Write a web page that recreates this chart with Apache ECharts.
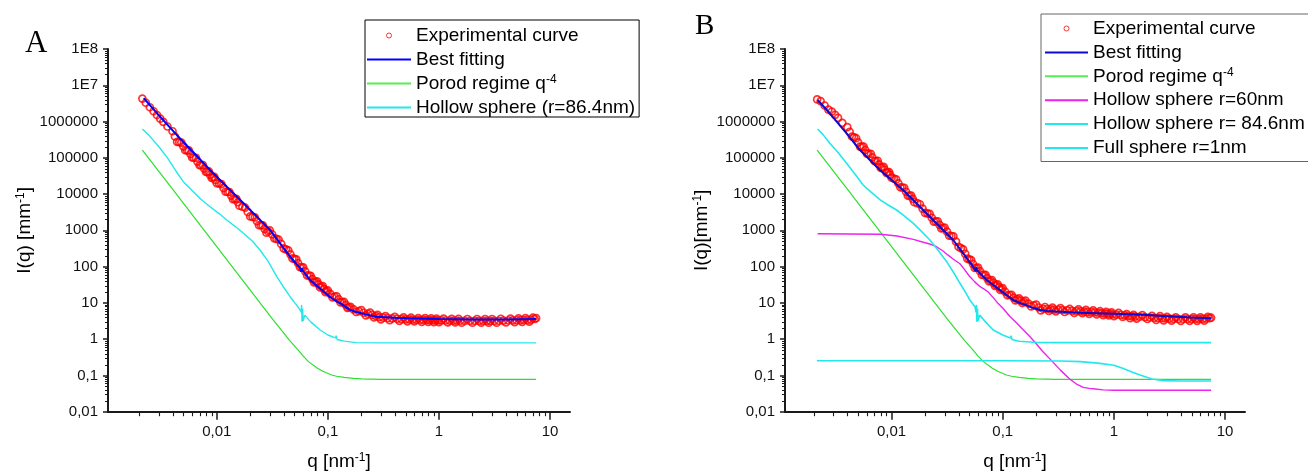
<!DOCTYPE html>
<html><head><meta charset="utf-8">
<script src="https://cdn.jsdelivr.net/npm/echarts@6/dist/echarts.min.js"></script>
<style>html,body{margin:0;padding:0;background:#fff}#c{width:1308px;height:471px}</style>
</head><body><div id="c"></div>
<script>
// ---------- tick labels ----------
const xTickValues = [0.01, 0.1, 1, 10];
const xTickLabels = ['0,01', '0,1', '1', '10'];
const yTickValues = [0.01, 0.1, 1, 10, 100, 1000, 10000, 100000, 1000000, 1e7, 1e8];
const yTickLabels = ['0,01', '0,1', '1', '10', '100', '1000', '10000', '100000', '1000000', '1E7', '1E8'];

// ---------- experimental curve (shared q grids) ----------
const qExp = [0.00214, 0.0023, 0.0025, 0.0027, 0.0029, 0.0031, 0.0033, 0.0036, 0.004, 0.0044, 0.0048, 0.0052, 0.0056, 0.006, 0.0065, 0.007, 0.0075, 0.008, 0.0085, 0.009, 0.0095, 0.010, 0.011, 0.012, 0.013, 0.014, 0.015, 0.016, 0.018, 0.020, 0.022, 0.024, 0.026, 0.028, 0.030, 0.033, 0.036, 0.040, 0.044, 0.048, 0.052, 0.056, 0.060, 0.065, 0.070, 0.075, 0.080, 0.085, 0.090, 0.095, 0.10, 0.11, 0.12, 0.13, 0.14, 0.15, 0.16, 0.18, 0.20, 0.22, 0.24, 0.26, 0.28, 0.30, 0.33, 0.36, 0.40, 0.44, 0.48, 0.52, 0.56, 0.60, 0.65, 0.70, 0.75, 0.80, 0.85, 0.90, 0.95, 1.0, 1.1, 1.2, 1.3, 1.4, 1.5, 1.6, 1.8, 2.0, 2.2, 2.4, 2.6, 2.8, 3.0, 3.3, 3.6, 4.0, 4.4, 4.8, 5.2, 5.6, 6.0, 6.5, 7.0, 7.48];
const iExpA = [4.3e6, 3.3e6, 2.48e6, 1.92e6, 1.51e6, 1.2e6, 9.8e5, 7.3e5, 5.4e5, 2.76e5, 2.63e5, 1.62e5, 1.6e5, 1.02e5, 9.93e4, 6.23e4, 6.28e4, 4.06e4, 4.2e4, 2.78e4, 2.97e4, 2.01e4, 1.89e4, 1.16e4, 1.14e4, 7210, 7360, 4800, 4210, 2420, 2270, 1390, 1370, 863, 997, 603, 559, 318, 282, 168, 159, 97, 95, 57, 55.6, 36.8, 39.2, 26.6, 28.9, 19.9, 22, 14.2, 15.2, 10.3, 10.6, 7.3, 7.8, 5.6, 6.3, 4.5, 5.4, 4.0, 4.7, 3.5, 4.3, 3.34, 4.1, 3.2, 4.0, 3.1, 3.9, 3.1, 3.8, 3.0, 3.8, 3.0, 3.75, 2.95, 3.7, 2.95, 3.7, 2.9, 3.65, 2.9, 3.65, 2.85, 3.6, 2.85, 3.6, 2.85, 3.6, 2.85, 3.6, 2.85, 3.65, 2.9, 3.7, 2.95, 3.75, 3.0, 3.8, 3.05, 3.9, 3.8];
const iExpB = [4.1e6, 3.66e6, 2.77e6, 2.14e6, 1.88e6, 1.53e6, 1.26e6, 9.21e5, 6.99e5, 3.86e5, 3.47e5, 2.04e5, 2.04e5, 1.31e5, 1.29e5, 8.15e4, 8.3e4, 5.27e4, 5.66e4, 3.86e4, 4.05e4, 2.82e4, 2.54e4, 1.54e4, 1.49e4, 8990, 9150, 5980, 5250, 3030, 2840, 1730, 1780, 1130, 1200, 712, 683, 352, 300, 166, 151, 92, 94, 59, 59, 39.4, 42.8, 29.5, 32.5, 22.8, 25.4, 16.2, 16.7, 11.7, 13.4, 9.9, 11.5, 8.0, 9.0, 6.2, 7.7, 6.0, 7.4, 5.8, 7.2, 5.6, 6.8, 5.3, 6.6, 5.2, 6.4, 5.0, 6.2, 4.8, 5.9, 4.6, 5.7, 4.5, 5.5, 4.3, 5.3, 4.1, 4.9, 3.8, 4.7, 3.7, 4.6, 3.6, 4.4, 3.4, 4.3, 3.3, 4.1, 3.25, 4.0, 3.2, 4.0, 3.2, 4.0, 3.2, 4.0, 3.25, 4.1, 3.9];
// extra experimental points lying between the ones above (dense part of the curve)
const qExpMid = [0.0042, 0.0046, 0.005, 0.0054, 0.0058, 0.0062, 0.0067, 0.0072, 0.0077, 0.0082, 0.0087, 0.0092, 0.0097, 0.0105, 0.0115, 0.0125, 0.0135, 0.0145, 0.0155, 0.017, 0.019, 0.021, 0.023, 0.025, 0.027, 0.029, 0.0315, 0.0345, 0.038, 0.042, 0.046, 0.05, 0.054, 0.058, 0.0625, 0.0675, 0.0725, 0.0775, 0.0825, 0.0875, 0.0925, 0.0975, 0.105, 0.115, 0.125, 0.135, 0.145, 0.155, 0.17, 0.19, 0.21, 0.23, 0.25, 0.27, 0.29, 0.315, 0.345, 0.38, 0.42, 0.46, 0.50, 0.54, 0.58, 0.625, 0.675, 0.725, 0.775, 0.825, 0.875, 0.925, 0.975, 1.05, 1.15, 1.25, 1.35, 1.45, 1.55, 1.7, 1.9, 2.1, 2.3, 2.5, 2.7, 2.9, 3.15, 3.45, 3.8, 4.2, 4.6, 5.0, 5.4, 5.8, 6.25, 6.75, 7.25];
const iExpMidA = [3.87e5, 2.7e5, 2.07e5, 1.61e5, 1.28e5, 1.01e5, 7.88e4, 6.27e4, 5.06e4, 4.14e4, 3.42e4, 2.88e4, 2.45e4, 1.95e4, 1.48e4, 1.15e4, 9090, 7290, 5950, 4500, 3200, 2350, 1780, 1380, 1090, 929, 776, 581, 422, 300, 218, 164, 124, 96, 74, 56.3, 45.3, 38.1, 32.3, 27.8, 24.0, 21.0, 17.7, 14.8, 12.6, 10.5, 8.8, 7.55, 6.6, 5.95, 5.35, 4.95, 4.65, 4.35, 4.07, 3.9, 3.8, 3.72, 3.65, 3.57, 3.52, 3.5, 3.47, 3.42, 3.4, 3.4, 3.37, 3.35, 3.32, 3.3, 3.3, 3.3, 3.27, 3.25, 3.25, 3.25, 3.22, 3.2, 3.2, 3.2, 3.2, 3.2, 3.2, 3.2, 3.2, 3.22, 3.25, 3.27, 3.3, 3.32, 3.35, 3.37, 3.4, 3.45, 3.6];
const iExpMidB = [5.2e5, 3.67e5, 2.66e5, 2.04e5, 1.64e5, 1.3e5, 1.03e5, 8.24e4, 6.62e4, 5.47e4, 4.68e4, 3.96e4, 3.39e4, 2.68e4, 1.98e4, 1.52e4, 1.16e4, 9080, 7410, 5610, 3990, 2940, 2220, 1760, 1420, 1170, 925, 699, 491, 325, 224, 159, 118, 93, 74.5, 59, 48.4, 41.1, 35.6, 31, 27.2, 24.1, 20.3, 16.5, 14.0, 12.5, 11.5, 10.7, 9.6, 8.5, 7.47, 6.9, 6.78, 6.66, 6.55, 6.45, 6.35, 6.2, 6.05, 5.95, 5.85, 5.75, 5.65, 5.55, 5.45, 5.35, 5.25, 5.15, 5.05, 4.95, 4.85, 4.75, 4.65, 4.5, 4.35, 4.25, 4.2, 4.15, 4.05, 3.95, 3.87, 3.82, 3.77, 3.72, 3.67, 3.62, 3.6, 3.6, 3.6, 3.6, 3.6, 3.6, 3.62, 3.67, 3.8];

// ---------- panel A fits ----------
const qFitA = [0.0022, 0.003, 0.00436, 0.0062, 0.0087, 0.0123, 0.0174, 0.024, 0.0302, 0.038, 0.0457, 0.052, 0.056, 0.0575, 0.0582, 0.059, 0.0691, 0.085, 0.104, 0.115, 0.13, 0.14, 0.158, 0.175, 0.2, 0.235, 0.275, 0.4, 0.55, 1, 2, 4, 7.48];
const iFitA = [4.4e6, 1.5e6, 4.27e5, 1.38e5, 4.61e4, 1.6e4, 5570, 2070, 1023, 400, 188, 118, 95, 72, 92, 80, 42.8, 25, 14.8, 12, 9.7, 8.3, 6.4, 5.8, 5.2, 4.6, 4.16, 3.9, 3.76, 3.6, 3.5, 3.5, 3.6];
const qPorod = [0.00214, 0.004, 0.008, 0.016, 0.025, 0.0323, 0.038, 0.045, 0.0541, 0.06, 0.0669, 0.08, 0.09, 0.108, 0.12, 0.14, 0.17, 0.2, 0.3, 1, 7.48];
const iPorod = [164000, 13600, 863, 54.8, 9.2, 3.37, 1.79, 0.94, 0.5, 0.34, 0.24, 0.16, 0.13, 0.103, 0.095, 0.088, 0.083, 0.08, 0.078, 0.078, 0.078];
const qHolA = [0.00214, 0.0025, 0.003, 0.0036, 0.00436, 0.005, 0.00616, 0.0072, 0.0087, 0.0105, 0.0123, 0.0148, 0.0174, 0.021, 0.0245, 0.029, 0.0347, 0.04, 0.0457, 0.051, 0.0562, 0.0575, 0.058, 0.0585, 0.0592, 0.06, 0.062, 0.07, 0.0852, 0.1, 0.117, 0.119, 0.121, 0.14, 0.18, 0.3, 1, 7.48];
const iHolA = [622000, 390000, 205000, 100000, 40000, 22000, 11600, 7200, 4490, 2900, 1930, 1250, 830, 500, 287, 140, 52.7, 27, 14.8, 9.5, 6.4, 5.5, 8.8, 3.0, 7.0, 3.2, 4.6, 3.0, 1.79, 1.3, 1.08, 1.25, 0.98, 0.88, 0.80, 0.79, 0.79, 0.79];

// ---------- panel B fits ----------
const qFitB = [0.00216, 0.00278, 0.00394, 0.00519, 0.00785, 0.0127, 0.0221, 0.0358, 0.045, 0.0541, 0.0572, 0.0578, 0.0585, 0.0717, 0.095, 0.124, 0.14, 0.16, 0.185, 0.216, 0.25, 0.3, 0.49, 1.2, 2, 3, 5, 7.48];
const iFitB = [3.93e6, 1.69e6, 4.73e5, 1.64e5, 4.61e4, 1.29e4, 2380, 542, 215, 99.6, 75, 98, 80, 42.8, 22.2, 12.0, 10.2, 8.8, 7.4, 6.37, 6.0, 5.8, 5.37, 4.94, 4.6, 4.3, 3.95, 3.76];
const qMag = [0.00216, 0.0079, 0.0112, 0.0157, 0.0193, 0.022, 0.0254, 0.029, 0.032, 0.036, 0.0412, 0.045, 0.05, 0.056, 0.0625, 0.068, 0.074, 0.082, 0.09, 0.1, 0.116, 0.13, 0.148, 0.17, 0.195, 0.23, 0.28, 0.33, 0.4, 0.46, 0.53, 0.6, 0.65, 0.66, 0.67, 0.8, 1, 7.48];
const iMag = [808, 780, 700, 566, 470, 420, 354, 270, 210, 160, 120, 85, 55, 38, 28, 24, 20, 14, 10, 7.2, 4.2, 3.0, 2.0, 1.3, 0.82, 0.45, 0.24, 0.14, 0.08, 0.058, 0.047, 0.044, 0.043, 0.047, 0.041, 0.040, 0.039, 0.039];
const qHolB = [0.00216, 0.0024, 0.00278, 0.0033, 0.00394, 0.0047, 0.00555, 0.0065, 0.00785, 0.0093, 0.0111, 0.013, 0.0157, 0.0185, 0.0221, 0.026, 0.0313, 0.036, 0.0412, 0.046, 0.0506, 0.0562, 0.0575, 0.058, 0.0585, 0.0592, 0.06, 0.062, 0.07, 0.082, 0.1, 0.117, 0.119, 0.121, 0.14, 0.164, 0.2, 0.3, 1, 7.48];
const iHolB = [622000, 450000, 251000, 140000, 70600, 35000, 17800, 11500, 7000, 5000, 3640, 2500, 1560, 950, 542, 290, 137, 70, 34.7, 20, 12, 7.85, 5.5, 8.8, 3.0, 7.0, 3.2, 4.6, 3.0, 1.79, 1.3, 1.08, 1.25, 0.98, 0.88, 0.85, 0.81, 0.80, 0.80, 0.80];
const qFull = [0.00213, 0.1, 0.33, 0.5, 0.75, 1.0, 1.2, 1.45, 1.72, 2.2, 2.8, 4, 7.48];
const iFull = [0.255, 0.255, 0.25, 0.24, 0.215, 0.19, 0.157, 0.125, 0.103, 0.08, 0.072, 0.070, 0.070];

// ---------- helpers ----------
const pairs = (q, v) => q.map((x, i) => [x, v[i]]);
const isSame = (a, b) => Math.abs(Math.log10(a) - Math.log10(b)) < 1e-6;
const fmtX = v => { const i = xTickValues.findIndex(t => isSame(t, v)); return i >= 0 ? xTickLabels[i] : ''; };
const fmtY = v => { const i = yTickValues.findIndex(t => isSame(t, v)); return i >= 0 ? yTickLabels[i] : ''; };
const xMinor = []; for (let e = -3; e <= 0; e++) for (let m = 2; m <= 9; m++) xMinor.push(+(m * Math.pow(10, e)).toPrecision(6));
const yMinor = []; for (let e = -2; e <= 7; e++) for (let m = 2; m <= 9; m++) yMinor.push(+(m * Math.pow(10, e)).toPrecision(6));

const FONT = 'Liberation Sans, Arial, sans-serif';
const AX = '#1a1a1a';
const C_RED = '#ff0000', C_BLUE_A = '#0000ff', C_BLUE_B = '#0a0ad0', C_GREEN = '#2ee02e', C_CYAN = '#22e8ee', C_MAG = '#ee22ee';
const X_RANGE = [[0.00105, 15.1], [0.0011, 15.1]];

const nameRich = {
  a: { fontSize: 19, fontFamily: FONT, color: '#000', lineHeight: 20 },
  s: { fontSize: 12, fontFamily: FONT, color: '#000', verticalAlign: 'top', lineHeight: 20 }
};

function majorX(grid) {
  return {
    type: 'log', gridIndex: grid, min: X_RANGE[grid][0], max: X_RANGE[grid][1], position: 'bottom',
    axisLine: { show: true, onZero: false, lineStyle: { color: AX, width: 2 } },
    axisTick: { show: true, customValues: xTickValues, length: 8, lineStyle: { color: AX, width: 1.5 } },
    axisLabel: { customValues: xTickValues, formatter: fmtX, margin: 13, fontSize: 15, fontFamily: FONT, color: '#111' },
    splitLine: { show: false }, minorTick: { show: false },
    name: '{a|q [nm}{s|-1}{a|]}', nameLocation: 'middle', nameGap: 40,
    nameTextStyle: { rich: nameRich }
  };
}
function majorY(grid, nm) {
  return {
    type: 'log', gridIndex: grid, min: 0.01, max: 1e8, position: 'left',
    axisLine: { show: true, onZero: false, lineStyle: { color: AX, width: 2 } },
    axisTick: { show: true, customValues: yTickValues, length: 5, lineStyle: { color: AX, width: 1.5 } },
    axisLabel: { customValues: yTickValues, formatter: fmtY, margin: 10, fontSize: 15, fontFamily: FONT, color: '#111' },
    splitLine: { show: false }, minorTick: { show: false },
    name: nm, nameLocation: 'middle', nameGap: 73, nameRotate: 90,
    nameTextStyle: { rich: nameRich }
  };
}
function line(name, xi, q, v, color, width, z) {
  return { type: 'line', name: name, xAxisIndex: xi, yAxisIndex: xi, data: pairs(q, v),
    symbol: 'none', smooth: false, lineStyle: { color: color, width: width }, itemStyle: { color: color },
    z: z || 2, silent: true };
}
function scatter(name, xi, q, v, q2, v2) {
  return { type: 'scatter', name: name, xAxisIndex: xi, yAxisIndex: xi, data: pairs(q, v).concat(pairs(q2, v2)),
    symbol: 'circle', symbolSize: 7,
    itemStyle: { color: 'rgba(255,255,255,0)', borderColor: C_RED, borderWidth: 1.7 }, z: 1, silent: true };
}

const legendText = {
  fontSize: 19, fontFamily: FONT, color: '#000',
  rich: {
    a: { fontSize: 19, fontFamily: FONT, color: '#000' },
    s: { fontSize: 12, fontFamily: FONT, color: '#000', verticalAlign: 'top' }
  }
};
const legendFmt = n => n === 'Porod regime q-4' ? '{a|Porod regime q}{s|-4}' : n;
const BAR = 'path://M0 0H44V2H0Z';
const expItem = { name: 'Experimental curve', icon: 'circle', itemStyle: { color: 'rgba(255,255,255,0)', borderColor: C_RED, borderWidth: 1 } };
const lineItem = (n, c) => ({ name: n, icon: BAR, itemStyle: { color: c, borderWidth: 0 } });

const graphics = [
  { type: 'text', left: 25, top: 28, style: { text: 'A', font: '31px "Liberation Serif", "Times New Roman", serif', fill: '#000' } },
  { type: 'text', left: 695, top: 12, style: { text: 'B', font: '29px "Liberation Serif", "Times New Roman", serif', fill: '#000' } }
];

const option = {
  animation: false,
  backgroundColor: '#fff',
  grid: [
    { left: 108, top: 49, width: 462, height: 362.7, outerBoundsMode: 'none', containLabel: false },
    { left: 785, top: 49, width: 460, height: 362.7, outerBoundsMode: 'none', containLabel: false }
  ],
  xAxis: [majorX(0), majorX(1)],
  yAxis: [majorY(0, '{a|I(q) [mm}{s|-1}{a|]}'), majorY(1, '{a|I(q)[mm}{s|-1}{a|]}')],
  legend: [
    { data: [expItem, lineItem('Best fitting', C_BLUE_A), lineItem('Porod regime q-4', '#55ee55'), lineItem('Hollow sphere (r=86.4nm)', C_CYAN)],
      orient: 'vertical', left: 365, top: 20, itemWidth: 44, itemHeight: 5, itemGap: 5.0,
      padding: [6, 4, 0, 2], borderColor: '#000', borderWidth: 1, backgroundColor: '#fff',
      selectedMode: false, formatter: legendFmt, textStyle: legendText },
    { data: [expItem, lineItem('Best fitting', C_BLUE_B), lineItem('Porod regime q-4', '#55ee55'), lineItem('Hollow sphere r=60nm', C_MAG), lineItem('Hollow sphere r= 84.6nm', C_CYAN), lineItem('Full sphere r=1nm', C_CYAN)],
      orient: 'vertical', left: 1041, top: 14, itemWidth: 43, itemHeight: 5, itemGap: 4.9,
      padding: [5, 8, 4, 4], borderColor: '#666', borderWidth: 1, backgroundColor: '#fff',
      selectedMode: false, formatter: legendFmt, textStyle: legendText }
  ],
  graphic: graphics,
  series: [
    scatter('Experimental curve', 0, qExp, iExpA, qExpMid, iExpMidA),
    line('Porod regime q-4', 0, qPorod, iPorod, C_GREEN, 1.2),
    line('Hollow sphere (r=86.4nm)', 0, qHolA, iHolA, C_CYAN, 1.4),
    line('Best fitting', 0, qFitA, iFitA, C_BLUE_A, 2, 3),

    scatter('Experimental curve', 1, qExp, iExpB, qExpMid, iExpMidB),
    line('Porod regime q-4', 1, qPorod, iPorod, C_GREEN, 1.2),
    line('Hollow sphere r=60nm', 1, qMag, iMag, C_MAG, 1.4),
    line('Hollow sphere r= 84.6nm', 1, qHolB, iHolB, C_CYAN, 1.6),
    line('Full sphere r=1nm', 1, qFull, iFull, C_CYAN, 1.6),
    line('Best fitting', 1, qFitB, iFitB, C_BLUE_B, 2, 3)
  ]
};
const chart = echarts.init(document.getElementById('c'), null, { renderer: 'canvas' });
chart.setOption(option);

// minor ticks (2..9 of each decade) placed through the axes' own scales
const ticks = [];
[0, 1].forEach(gi => {
  const yBottom = chart.convertToPixel({ yAxisIndex: gi }, 0.01);
  const xLeft = chart.convertToPixel({ xAxisIndex: gi }, X_RANGE[gi][0]);
  xMinor.forEach(v => {
    if (v < X_RANGE[gi][0] || v > X_RANGE[gi][1]) return;
    const x = Math.round(chart.convertToPixel({ xAxisIndex: gi }, v)) + 0.5;
    ticks.push({ type: 'line', silent: true, shape: { x1: x, y1: yBottom, x2: x, y2: yBottom + 4.5 }, style: { stroke: AX, lineWidth: 1.1 } });
  });
  yMinor.forEach(v => {
    const y = Math.round(chart.convertToPixel({ yAxisIndex: gi }, v)) + 0.5;
    ticks.push({ type: 'line', silent: true, shape: { x1: xLeft - 3, y1: y, x2: xLeft, y2: y }, style: { stroke: AX, lineWidth: 1 } });
  });
});
chart.setOption({ graphic: graphics.concat(ticks) });
</script></body></html>
